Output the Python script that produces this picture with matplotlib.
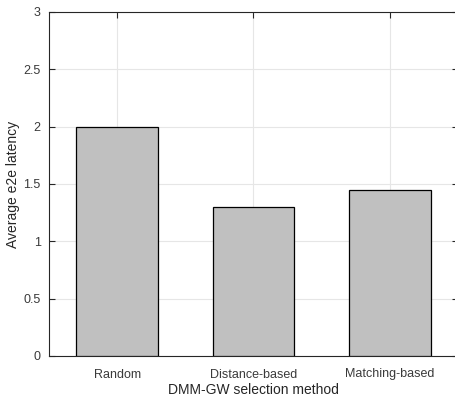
import matplotlib.pyplot as plt

methods = ['Random', 'Distance-based', 'Matching-based']
latency = [2.0, 1.3, 1.45]
yticks = [0, 0.5, 1, 1.5, 2, 2.5, 3]
ytick_labels = ['0', '0.5', '1', '1.5', '2', '2.5', '3']

plt.rcParams['font.family'] = ['Liberation Sans', 'DejaVu Sans']

fig = plt.figure(figsize=(4.56, 3.97), dpi=100)
# axes box runs slightly past the right edge, as in the cropped original
ax = fig.add_axes([49 / 456, 41 / 397, 409 / 456, 344 / 397])

pos = [1, 2, 3]
ax.bar(pos, latency, width=0.6, color='#c0c0c0', edgecolor='black', linewidth=0.9, zorder=3)

ax.set_xlim(0.5, 3.5)
ax.set_ylim(0, 3)
ax.set_xticks(pos)
ax.set_xticklabels(methods)
ax.set_yticks(yticks)
ax.set_yticklabels(ytick_labels)

ax.grid(True, color='#e6e6e6', linewidth=0.8, zorder=0)
ax.set_axisbelow(True)

for s in ax.spines.values():
    s.set_color('#262626')
    s.set_linewidth(0.8)

ax.tick_params(direction='in', length=4, width=0.8, colors='#262626',
               labelsize=9, top=True, right=True, pad=6)
ax.tick_params(axis='x', pad=9)
for lbl in ax.get_xticklabels() + ax.get_yticklabels():
    lbl.set_color('#3a3a3a')

ax.set_xlabel('DMM-GW selection method', fontsize=10, color='#262626', labelpad=2)
ax.set_ylabel('Average e2e latency', fontsize=10, color='#262626')
ax.yaxis.set_label_coords(-0.07, 0.5)

fig.savefig('out.png', dpi=100)
